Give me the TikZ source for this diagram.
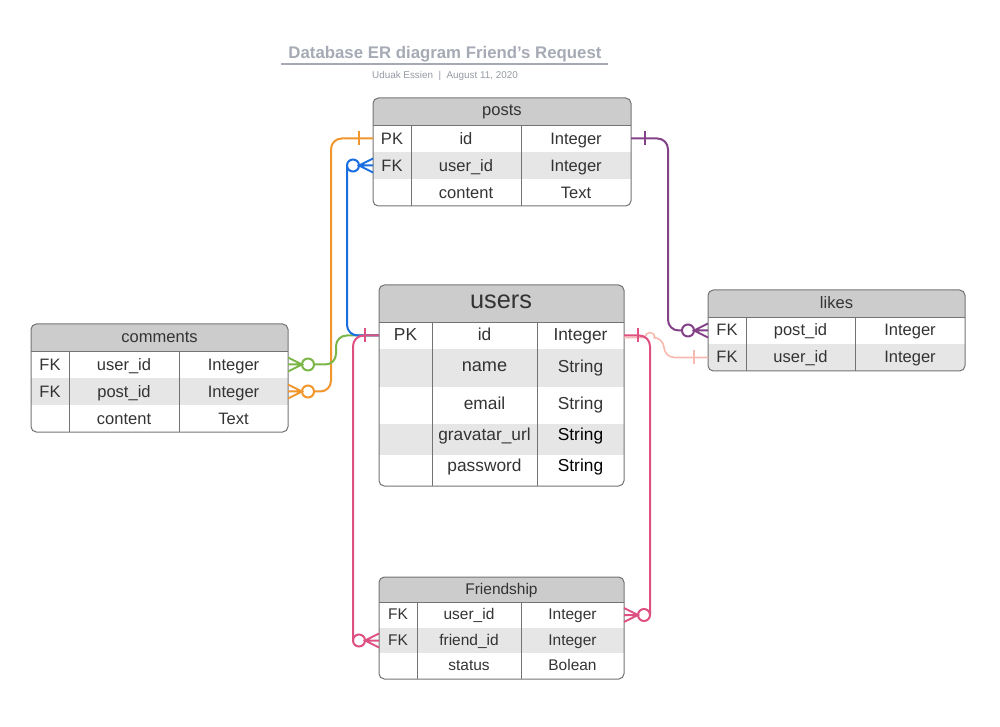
\documentclass[tikz,border=0pt]{standalone}
\usepackage{fontspec}
\setmainfont{Liberation Sans}
\usetikzlibrary{calc}
\definecolor{hdrgray}{RGB}{204,204,204}
\definecolor{altgray}{RGB}{230,230,230}
\definecolor{framegray}{RGB}{115,115,115}
\definecolor{txtgray}{RGB}{51,51,51}
\definecolor{titlegray}{RGB}{165,170,180}
\definecolor{lnorange}{RGB}{240,150,45}
\definecolor{lnblue}{RGB}{25,110,225}
\definecolor{lngreen}{RGB}{122,182,72}
\definecolor{lnpurple}{RGB}{131,65,135}
\definecolor{lnpink}{RGB}{222,80,130}
\definecolor{lnsalmon}{RGB}{248,185,175}

\begin{document}
\begin{tikzpicture}[x=0.75pt,y=-0.75pt,
    cell/.style={inner sep=0pt, text=txtgray, font=\fontsize{12.4}{14}\selectfont, text height=8.9pt, text depth=0pt},
    ucell/.style={cell, font=\fontsize{13}{15}\selectfont, text height=9.4pt},
    fcell/.style={cell, font=\fontsize{11.6}{13}\selectfont, text height=8.4pt},
    frame/.style={draw=framegray, line width=0.75pt, rounded corners=4},
    grid/.style={draw=framegray, line width=0.6pt},
    link/.style={line width=1.5pt, rounded corners=8},
    orng/.style={color=lnorange, line width=1.5pt},
    blu/.style={color=lnblue, line width=1.5pt},
    grn/.style={color=lngreen, line width=1.5pt},
    prp/.style={color=lnpurple, line width=1.5pt},
    pnk/.style={color=lnpink, line width=1.5pt},
    salm/.style={color=lnsalmon, line width=1.2pt},
    onebar/.pic={\draw (14,-7) -- (14,7);},
    crowfoot/.pic={\draw (0,-7) -- (14,0) -- (0,7) (0,0) -- (14,0); \draw (20,0) circle (6);},
  ]
  \useasboundingbox (0,0) rectangle (1000,727);

  % title
  \node[text=titlegray, font=\bfseries\fontsize{12.6}{15}\selectfont, text height=9pt, text depth=0pt, inner sep=0pt] (title) at (445,52.5) {Database ER diagram Friend's Request};
  \draw[titlegray, line width=1.1pt] (281,64) -- (608,64);
  \node[text=titlegray!90!black, font=\fontsize{7.4}{8}\selectfont, text height=5.3pt, text depth=0pt, inner sep=0pt] (subtitle) at (445,74.5) {Uduak Essien~~|~~August 11, 2020};

  % posts
  \begin{scope}
    \clip[rounded corners=4] (373,98) rectangle (631,206);
    \fill[hdrgray] (373,98) rectangle (631,125);
    \fill[altgray] (373,152) rectangle (631,179);
  \end{scope}
  \draw[frame] (373,98) rectangle (631,206);
  \draw[grid] (373,125) -- (631,125) (411,125) -- (411,206) (521,125) -- (521,206);
  \node[cell, text height=6.5pt] (posts-title) at (502,111) {posts};
  \node[cell] (posts-pk) at (392,138.5) {PK};
  \node[cell] (posts-id) at (466,138.5) {id};
  \node[cell] (posts-id-type) at (576,138.5) {Integer};
  \node[cell] (posts-fk) at (392,165.5) {FK};
  \node[cell] (posts-uid) at (466,165.5) {user\_id};
  \node[cell] (posts-uid-type) at (576,165.5) {Integer};
  \node[cell] (posts-content) at (466,192.5) {content};
  \node[cell] (posts-content-type) at (576,192.5) {Text};

  % users
  \begin{scope}
    \clip[rounded corners=4] (379,285) rectangle (624,486);
    \fill[hdrgray] (379,285) rectangle (624,322);
    \fill[altgray] (379,349) rectangle (624,387);
    \fill[altgray] (379,424) rectangle (624,455);
  \end{scope}
  \draw[frame] (379,285) rectangle (624,486);
  \draw[grid] (379,322) -- (624,322) (432,322) -- (432,486) (537,322) -- (537,486);
  \node[cell, font=\fontsize{19}{22}\selectfont, text height=9.9pt] (users-title) at (501,301.5) {users};
  \node[ucell] (users-pk) at (405.5,334) {PK};
  \node[ucell] (users-id) at (484.5,334) {id};
  \node[ucell] (users-id-type) at (580.5,334) {Integer};
  \node[ucell, font=\fontsize{13.6}{15}\selectfont, text height=7.1pt] (users-name) at (484.5,367) {name};
  \node[ucell] (users-name-type) at (580.5,366) {String};
  \node[ucell] (users-email) at (484.5,403) {email};
  \node[ucell] (users-email-type) at (580.5,403) {String};
  \node[ucell] (users-grav) at (484.5,434) {gravatar\_url};
  \node[ucell, text=black] (users-grav-type) at (580.5,434) {String};
  \node[ucell] (users-pass) at (484.5,465) {password};
  \node[ucell, text=black] (users-pass-type) at (580.5,465) {String};

  % comments
  \begin{scope}
    \clip[rounded corners=4] (31,324) rectangle (288,432);
    \fill[hdrgray] (31,324) rectangle (288,351);
    \fill[altgray] (31,378) rectangle (288,405);
  \end{scope}
  \draw[frame] (31,324) rectangle (288,432);
  \draw[grid] (31,351) -- (288,351) (69,351) -- (69,432) (179,351) -- (179,432);
  \node[cell] (comments-title) at (159.5,336.5) {comments};
  \node[cell] (comments-fk1) at (50,364.5) {FK};
  \node[cell] (comments-uid) at (124,364.5) {user\_id};
  \node[cell] (comments-uid-type) at (233.5,364.5) {Integer};
  \node[cell] (comments-fk2) at (50,391.5) {FK};
  \node[cell] (comments-pid) at (124,391.5) {post\_id};
  \node[cell] (comments-pid-type) at (233.5,391.5) {Integer};
  \node[cell] (comments-content) at (124,418.5) {content};
  \node[cell] (comments-content-type) at (233.5,418.5) {Text};

  % likes
  \begin{scope}
    \clip[rounded corners=4] (708,290) rectangle (965,371);
    \fill[hdrgray] (708,290) rectangle (965,317);
    \fill[altgray] (708,344) rectangle (965,371);
  \end{scope}
  \draw[frame] (708,290) rectangle (965,371);
  \draw[grid] (708,317) -- (965,317) (746,317) -- (746,371) (855,317) -- (855,371);
  \node[cell] (likes-title) at (836.5,302.5) {likes};
  \node[cell] (likes-fk1) at (727,329.5) {FK};
  \node[cell] (likes-pid) at (800.5,329.5) {post\_id};
  \node[cell] (likes-pid-type) at (910,329.5) {Integer};
  \node[cell] (likes-fk2) at (727,356.5) {FK};
  \node[cell] (likes-uid) at (800.5,356.5) {user\_id};
  \node[cell] (likes-uid-type) at (910,356.5) {Integer};

  % Friendship
  \begin{scope}
    \clip[rounded corners=4] (379,577) rectangle (624,679);
    \fill[hdrgray] (379,577) rectangle (624,602);
    \fill[altgray] (379,628) rectangle (624,653);
  \end{scope}
  \draw[frame] (379,577) rectangle (624,679);
  \draw[grid] (379,602) -- (624,602) (417,602) -- (417,679) (521,602) -- (521,679);
  \node[fcell] (fr-title) at (501.5,588.5) {Friendship};
  \node[fcell] (fr-fk1) at (398,614) {FK};
  \node[fcell] (fr-uid) at (469,614) {user\_id};
  \node[fcell] (fr-uid-type) at (572.5,614) {Integer};
  \node[fcell] (fr-fk2) at (398,639.5) {FK};
  \node[fcell] (fr-fid) at (469,639.5) {friend\_id};
  \node[fcell] (fr-fid-type) at (572.5,639.5) {Integer};
  \node[fcell] (fr-status) at (469,665) {status};
  \node[fcell] (fr-status-type) at (572.5,665) {Bolean};

  % row ends
  \coordinate (posts-id-l) at (373,138.5);
  \coordinate (posts-id-r) at (631,138.5);
  \coordinate (posts-uid-l) at (373,165.5);
  \coordinate (users-id-l) at (379,335.5);
  \coordinate (users-id-r) at (624,335.5);
  \coordinate (comments-uid-r) at (288,364.5);
  \coordinate (comments-pid-r) at (288,391.5);
  \coordinate (likes-pid-l) at (708,330.5);
  \coordinate (likes-uid-l) at (708,357.5);
  \coordinate (fr-uid-r) at (624,615);
  \coordinate (fr-fid-l) at (379,640.5);

  % relations
  \draw[salm] ($(users-id-r)+(0,2)$) -- (645,337.5) arc[start angle=180, end angle=360, radius=5] -- (655,337.5) [rounded corners=8] -- (664,337.5) |- (likes-uid-l);
  \draw[orng,link] (posts-id-l) -| (331,391.5) -- ($(comments-pid-r)+(26,0)$);
  \draw[grn,link] ($(comments-uid-r)+(26,0)$) -| (336,335.5) -- (users-id-l);
  \draw[blu,link] ($(posts-uid-l)+(-26,0)$) |- (users-id-l);
  \draw[pnk,link] (users-id-l) -| ($(fr-fid-l)+(-26,0)$);
  \draw[pnk,link] (users-id-r) -| ($(fr-uid-r)+(26,0)$);
  \draw[prp,link] (posts-id-r) -| (668,330.5) -- ($(likes-pid-l)+(-26,0)$);

  \path (posts-id-l) pic[orng,xscale=-1]{onebar};
  \path (comments-pid-r) pic[orng]{crowfoot};
  \path (comments-uid-r) pic[grn]{crowfoot};
  \path (posts-uid-l) pic[blu,xscale=-1]{crowfoot};
  \path (users-id-l) pic[pnk,xscale=-1]{onebar};
  \path (fr-fid-l) pic[pnk,xscale=-1]{crowfoot};
  \path (users-id-r) pic[pnk]{onebar};
  \path (fr-uid-r) pic[pnk]{crowfoot};
  \path (posts-id-r) pic[prp]{onebar};
  \path (likes-pid-l) pic[prp,xscale=-1]{crowfoot};
  \path (likes-uid-l) pic[salm,xscale=-1]{onebar};
\end{tikzpicture}
\end{document}
